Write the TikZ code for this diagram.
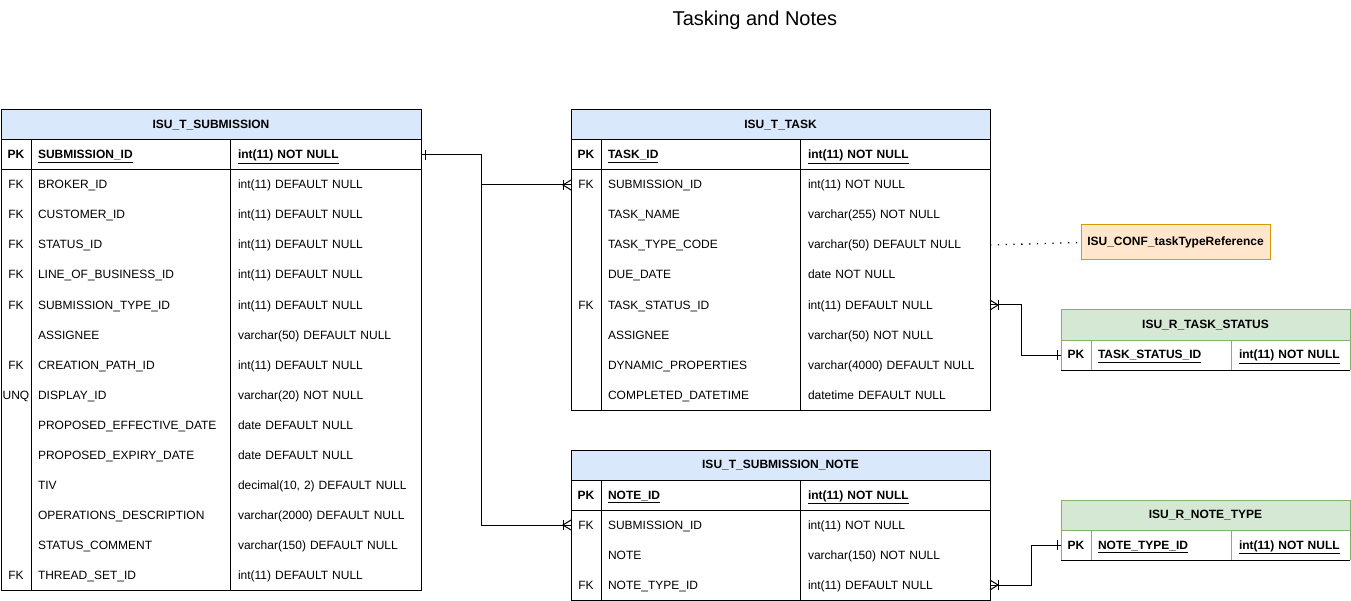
\documentclass[tikz,border=0pt]{standalone}
\usepackage{fontspec}
\setmainfont{Liberation Sans}
\usetikzlibrary{positioning}
\definecolor{hdrblue}{HTML}{DAE8FC}
\definecolor{refgreen}{HTML}{D5E8D4}
\definecolor{refgreenline}{HTML}{82B366}
\definecolor{conforange}{HTML}{FFE6CC}
\definecolor{conforangeline}{HTML}{D79B00}

\begin{document}
\begin{tikzpicture}[x=1pt, y=-1pt, line width=1pt,
  font=\fontsize{12}{14}\selectfont,
  tablehead/.style={rectangle, draw, fill=hdrblue, anchor=north west, minimum height=30pt, inner sep=0pt, outer sep=0pt, font=\fontsize{12}{14}\selectfont\bfseries},
  refhead/.style={tablehead, draw=refgreenline, fill=refgreen},
  keycell/.style={rectangle, anchor=west, minimum width=30pt, minimum height=30pt, inner sep=0pt, outer sep=0pt, text height=10pt, text depth=2pt},
  namecell/.style={rectangle, minimum height=30pt, inner xsep=7pt, inner ysep=0pt, outer sep=0pt, align=left, text width=185pt, text height=10pt, text depth=2pt},
  typecell/.style={rectangle, minimum height=30pt, inner xsep=8pt, inner ysep=0pt, outer sep=0pt, align=left, text width=174pt, text height=10pt, text depth=2pt},
  pkfont/.style={font=\fontsize{12}{14}\selectfont\bfseries},
  one/.pic={\draw (-4,-5) -- (-4,5);},
  many/.pic={\draw (0,-5) -- (-8,0) -- (0,5); \draw (-8,-5) -- (-8,5);}]
\useasboundingbox (0,0) rectangle (1351,601);

\node[font=\fontsize{20}{24}\selectfont] (title) at (755,20) {Tasking and Notes};

% ISU_T_SUBMISSION
\node[tablehead, minimum width=420pt] (sub-h) at (1,110) {ISU\_T\_SUBMISSION};
\node[keycell, pkfont] (sub-kpk) at (1,155) {PK};
\node[namecell, pkfont, right=0pt of sub-kpk] (sub-npk) {\underline{SUBMISSION\_ID}};
\node[typecell, pkfont, text width=175pt, right=0pt of sub-npk] (sub-tpk) {\underline{int(11) NOT NULL}};
\foreach \ky/\nm/\ty [count=\i] in {
  FK/BROKER\_ID/int(11) DEFAULT NULL,
  FK/CUSTOMER\_ID/int(11) DEFAULT NULL,
  FK/STATUS\_ID/int(11) DEFAULT NULL,
  FK/LINE\_OF\_BUSINESS\_ID/int(11) DEFAULT NULL,
  FK/SUBMISSION\_TYPE\_ID/int(11) DEFAULT NULL,
  {}/ASSIGNEE/varchar(50) DEFAULT NULL,
  FK/CREATION\_PATH\_ID/int(11) DEFAULT NULL,
  UNQ/DISPLAY\_ID/varchar(20) NOT NULL,
  {}/PROPOSED\_EFFECTIVE\_DATE/date DEFAULT NULL,
  {}/PROPOSED\_EXPIRY\_DATE/date DEFAULT NULL,
  {}/TIV/{decimal(10, 2) DEFAULT NULL},
  {}/OPERATIONS\_DESCRIPTION/varchar(2000) DEFAULT NULL,
  {}/STATUS\_COMMENT/varchar(150) DEFAULT NULL,
  FK/THREAD\_SET\_ID/int(11) DEFAULT NULL} {
  \node[keycell] (sub-k\i) at (1,155+30*\i) {\ky};
  \node[namecell, right=0pt of sub-k\i] (sub-n\i) {\nm};
  \node[typecell, text width=175pt, right=0pt of sub-n\i] (sub-t\i) {\ty};
}
\draw (sub-h.north west) rectangle (sub-t14.south east);
\draw (sub-kpk.south west) -- (sub-tpk.south east);
\draw (sub-kpk.north east) -- (sub-k14.south east);
\draw (sub-npk.north east) -- (sub-n14.south east);

% ISU_T_TASK
\node[tablehead, minimum width=419pt] (task-h) at (571,110) {ISU\_T\_TASK};
\node[keycell, pkfont] (task-kpk) at (571,155) {PK};
\node[namecell, pkfont, right=0pt of task-kpk] (task-npk) {\underline{TASK\_ID}};
\node[typecell, pkfont, right=0pt of task-npk] (task-tpk) {\underline{int(11) NOT NULL}};
\foreach \ky/\nm/\ty [count=\i] in {
  FK/SUBMISSION\_ID/int(11) NOT NULL,
  {}/TASK\_NAME/varchar(255) NOT NULL,
  {}/TASK\_TYPE\_CODE/varchar(50) DEFAULT NULL,
  {}/DUE\_DATE/date NOT NULL,
  FK/TASK\_STATUS\_ID/int(11) DEFAULT NULL,
  {}/ASSIGNEE/varchar(50) NOT NULL,
  {}/DYNAMIC\_PROPERTIES/varchar(4000) DEFAULT NULL,
  {}/COMPLETED\_DATETIME/datetime DEFAULT NULL} {
  \node[keycell] (task-k\i) at (571,155+30*\i) {\ky};
  \node[namecell, right=0pt of task-k\i] (task-n\i) {\nm};
  \node[typecell, right=0pt of task-n\i] (task-t\i) {\ty};
}
\draw (task-h.north west) rectangle (task-t8.south east);
\draw (task-kpk.south west) -- (task-tpk.south east);
\draw (task-kpk.north east) -- (task-k8.south east);
\draw (task-npk.north east) -- (task-n8.south east);

% ISU_T_SUBMISSION_NOTE
\node[tablehead, minimum width=419pt] (note-h) at (571,450) {ISU\_T\_SUBMISSION\_NOTE};
\node[keycell, pkfont] (note-kpk) at (571,495) {PK};
\node[namecell, pkfont, right=0pt of note-kpk] (note-npk) {\underline{NOTE\_ID}};
\node[typecell, pkfont, right=0pt of note-npk] (note-tpk) {\underline{int(11) NOT NULL}};
\foreach \ky/\nm/\ty [count=\i] in {
  FK/SUBMISSION\_ID/int(11) NOT NULL,
  {}/NOTE/varchar(150) NOT NULL,
  FK/NOTE\_TYPE\_ID/int(11) DEFAULT NULL} {
  \node[keycell] (note-k\i) at (571,495+30*\i) {\ky};
  \node[namecell, right=0pt of note-k\i] (note-n\i) {\nm};
  \node[typecell, right=0pt of note-n\i] (note-t\i) {\ty};
}
\draw (note-h.north west) rectangle (note-t3.south east);
\draw (note-kpk.south west) -- (note-tpk.south east);
\draw (note-kpk.north east) -- (note-k3.south east);
\draw (note-npk.north east) -- (note-n3.south east);

% ISU_R_TASK_STATUS
\node[refhead, minimum width=289pt] (tstat-h) at (1061,310) {ISU\_R\_TASK\_STATUS};
\node[keycell, pkfont] (tstat-kpk) at (1061,355) {PK};
\node[namecell, pkfont, text width=126pt, right=0pt of tstat-kpk] (tstat-npk) {\underline{TASK\_STATUS\_ID}};
\node[typecell, pkfont, text width=103pt, right=0pt of tstat-npk] (tstat-tpk) {\underline{int(11) NOT NULL}};
\draw[refgreenline] (tstat-kpk.south west) -- (tstat-kpk.north west) -- (tstat-tpk.north east) -- (tstat-tpk.south east);
\draw[refgreenline] (tstat-kpk.north east) -- (tstat-kpk.south east);
\draw[refgreenline] (tstat-npk.north east) -- (tstat-npk.south east);
\draw (tstat-kpk.south west) -- (tstat-tpk.south east);

% ISU_R_NOTE_TYPE
\node[refhead, minimum width=289pt] (ntype-h) at (1061,500) {ISU\_R\_NOTE\_TYPE};
\node[keycell, pkfont] (ntype-kpk) at (1061,545) {PK};
\node[namecell, pkfont, text width=126pt, right=0pt of ntype-kpk] (ntype-npk) {\underline{NOTE\_TYPE\_ID}};
\node[typecell, pkfont, text width=103pt, right=0pt of ntype-npk] (ntype-tpk) {\underline{int(11) NOT NULL}};
\draw[refgreenline] (ntype-kpk.south west) -- (ntype-kpk.north west) -- (ntype-tpk.north east) -- (ntype-tpk.south east);
\draw[refgreenline] (ntype-kpk.north east) -- (ntype-kpk.south east);
\draw[refgreenline] (ntype-npk.north east) -- (ntype-npk.south east);
\draw (ntype-kpk.south west) -- (ntype-tpk.south east);

% conf reference
\node[rectangle, draw=conforangeline, fill=conforange, minimum width=189pt, minimum height=35pt, font=\fontsize{12}{14}\selectfont\bfseries] (conf) at (1175.5,242.5) {ISU\_CONF\_taskTypeReference};

% relations
\draw (sub-tpk.east) -- ++(60,0) |- (task-k1.west);
\draw (sub-tpk.east) -- ++(60,0) |- (note-k1.west);
\draw (task-t5.east) -- ++(31,0) |- (tstat-kpk.west);
\draw (note-t3.east) -- ++(41,0) |- (ntype-kpk.west);
\draw[line width=1.3pt, dash pattern=on 1.3pt off 6.5pt] (task-t3.east) -- (conf.west);
\pic[rotate=180] at (sub-tpk.east) {one};
\pic at (task-k1.west) {many};
\pic at (note-k1.west) {many};
\pic[rotate=180] at (task-t5.east) {many};
\pic[rotate=180] at (note-t3.east) {many};
\pic at (tstat-kpk.west) {one};
\pic at (ntype-kpk.west) {one};
\end{tikzpicture}
\end{document}
